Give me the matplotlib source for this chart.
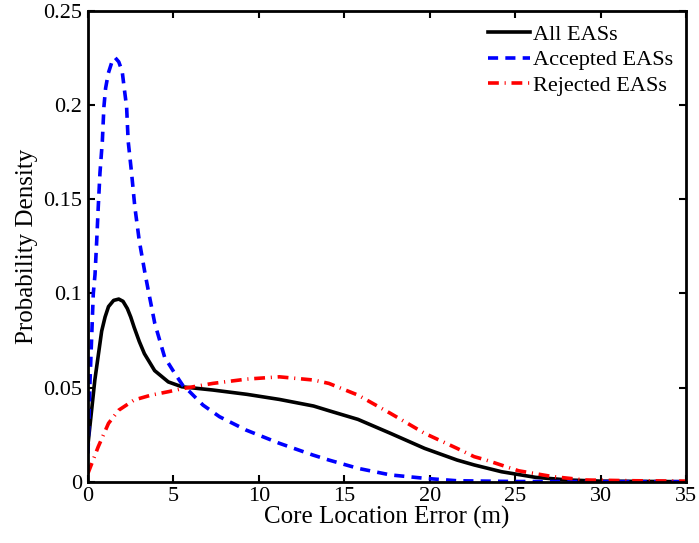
import matplotlib
matplotlib.use('Agg')
import matplotlib.pyplot as plt

plt.rcParams['font.family'] = ['Liberation Serif', 'DejaVu Serif']

# curves
x_all = [0, 0.4, 0.8, 1.0, 1.2, 1.5, 1.8, 2.05, 2.3, 2.5, 2.7, 3.0, 3.3, 3.9, 4.7, 5.5,
         7.3, 9.3, 11.2, 13.2, 14.1, 15.8, 17.7, 19.7, 21.6, 22.6, 24.2, 26.2, 28.1,
         30, 35]
y_all = [0.02, 0.054, 0.080, 0.0875, 0.093, 0.0963, 0.097, 0.0958, 0.092, 0.0875,
         0.082, 0.0745, 0.068, 0.059, 0.053, 0.0504, 0.0487, 0.0464, 0.0437, 0.0402,
         0.0377, 0.0331, 0.0257, 0.0177, 0.0115, 0.0089, 0.0053, 0.0023, 0.0009,
         0.0003, 0]

x_acc = [0, 0.12, 0.31, 0.41, 0.51, 0.6, 0.7, 0.84, 0.93, 1.03, 1.19, 1.4, 1.58, 1.8,
         2.0, 2.12, 2.26, 2.35, 2.55, 2.74, 3.0, 3.33, 3.52, 3.91, 4.49, 5.08, 5.56,
         5.95, 6.73, 7.7, 9.26, 11.2, 13.15, 14.1, 15.8, 17.7, 19.7, 21.6, 25, 35]
y_acc = [0.015, 0.054, 0.1, 0.11, 0.128, 0.146, 0.164, 0.181, 0.199, 0.209, 0.217,
         0.223, 0.2253, 0.223, 0.218, 0.209, 0.199, 0.181, 0.164, 0.146, 0.128, 0.111,
         0.102, 0.084, 0.066, 0.0575, 0.051, 0.0478, 0.0407, 0.0345, 0.0274, 0.0204,
         0.0142, 0.0115, 0.0071, 0.0036, 0.0018, 0.0005, 0.0001, 0]

x_rej = [0, 0.6, 1.2, 1.8, 2.7, 3.7, 4.7, 5.5, 7.3, 9.3, 11.2, 13.2, 14.1, 15.8, 17.7,
         19.7, 21.6, 22.6, 23.3, 25.2, 27.2, 29.1, 32, 35]
y_rej = [0.0045, 0.0186, 0.031, 0.038, 0.0434, 0.046, 0.0478, 0.0494, 0.0522, 0.0545,
         0.0557, 0.054, 0.0522, 0.046, 0.0363, 0.0257, 0.0177, 0.0133, 0.0115, 0.0058,
         0.0027, 0.0009, 0.0005, 0.0003]

xticks = [0, 5, 10, 15, 20, 25, 30, 35]
yticks = [0, 0.05, 0.1, 0.15, 0.2, 0.25]
ytick_labels = ['0', '0.05', '0.1', '0.15', '0.2', '0.25']

fig = plt.figure(figsize=(6.99, 5.43), dpi=100)
ax = fig.add_axes([0.1259, 0.1129, 0.8555, 0.8668])

ax.plot(x_all, y_all, color='black', lw=2.6, label='All EASs')
ax.plot(x_acc, y_acc, color='blue', lw=2.6, dashes=(2.8, 2.0), label='Accepted EASs')
ax.plot(x_rej, y_rej, color='red', lw=2.6, dashes=(3.0, 1.6, 0.3, 1.6), label='Rejected EASs')

ax.set_xlim(0, 35)
ax.set_ylim(0, 0.25)
ax.set_xticks(xticks)
ax.set_xticklabels([str(t) for t in xticks])
ax.set_yticks(yticks)
ax.set_yticklabels(ytick_labels)
ax.tick_params(direction='in', top=True, right=True, length=5, width=1.5,
               labelsize=16, pad=4)
for s in ax.spines.values():
    s.set_linewidth(2)

ax.set_xlabel('Core Location Error (m)', fontsize=18, labelpad=0)
ax.set_ylabel('Probability Density', fontsize=18, labelpad=4)

ax.legend(loc='upper right', frameon=False, fontsize=16, handlelength=1.9,
          handletextpad=0.1, labelspacing=0.22, borderaxespad=0.2)

fig.savefig('out.png', dpi=100)
